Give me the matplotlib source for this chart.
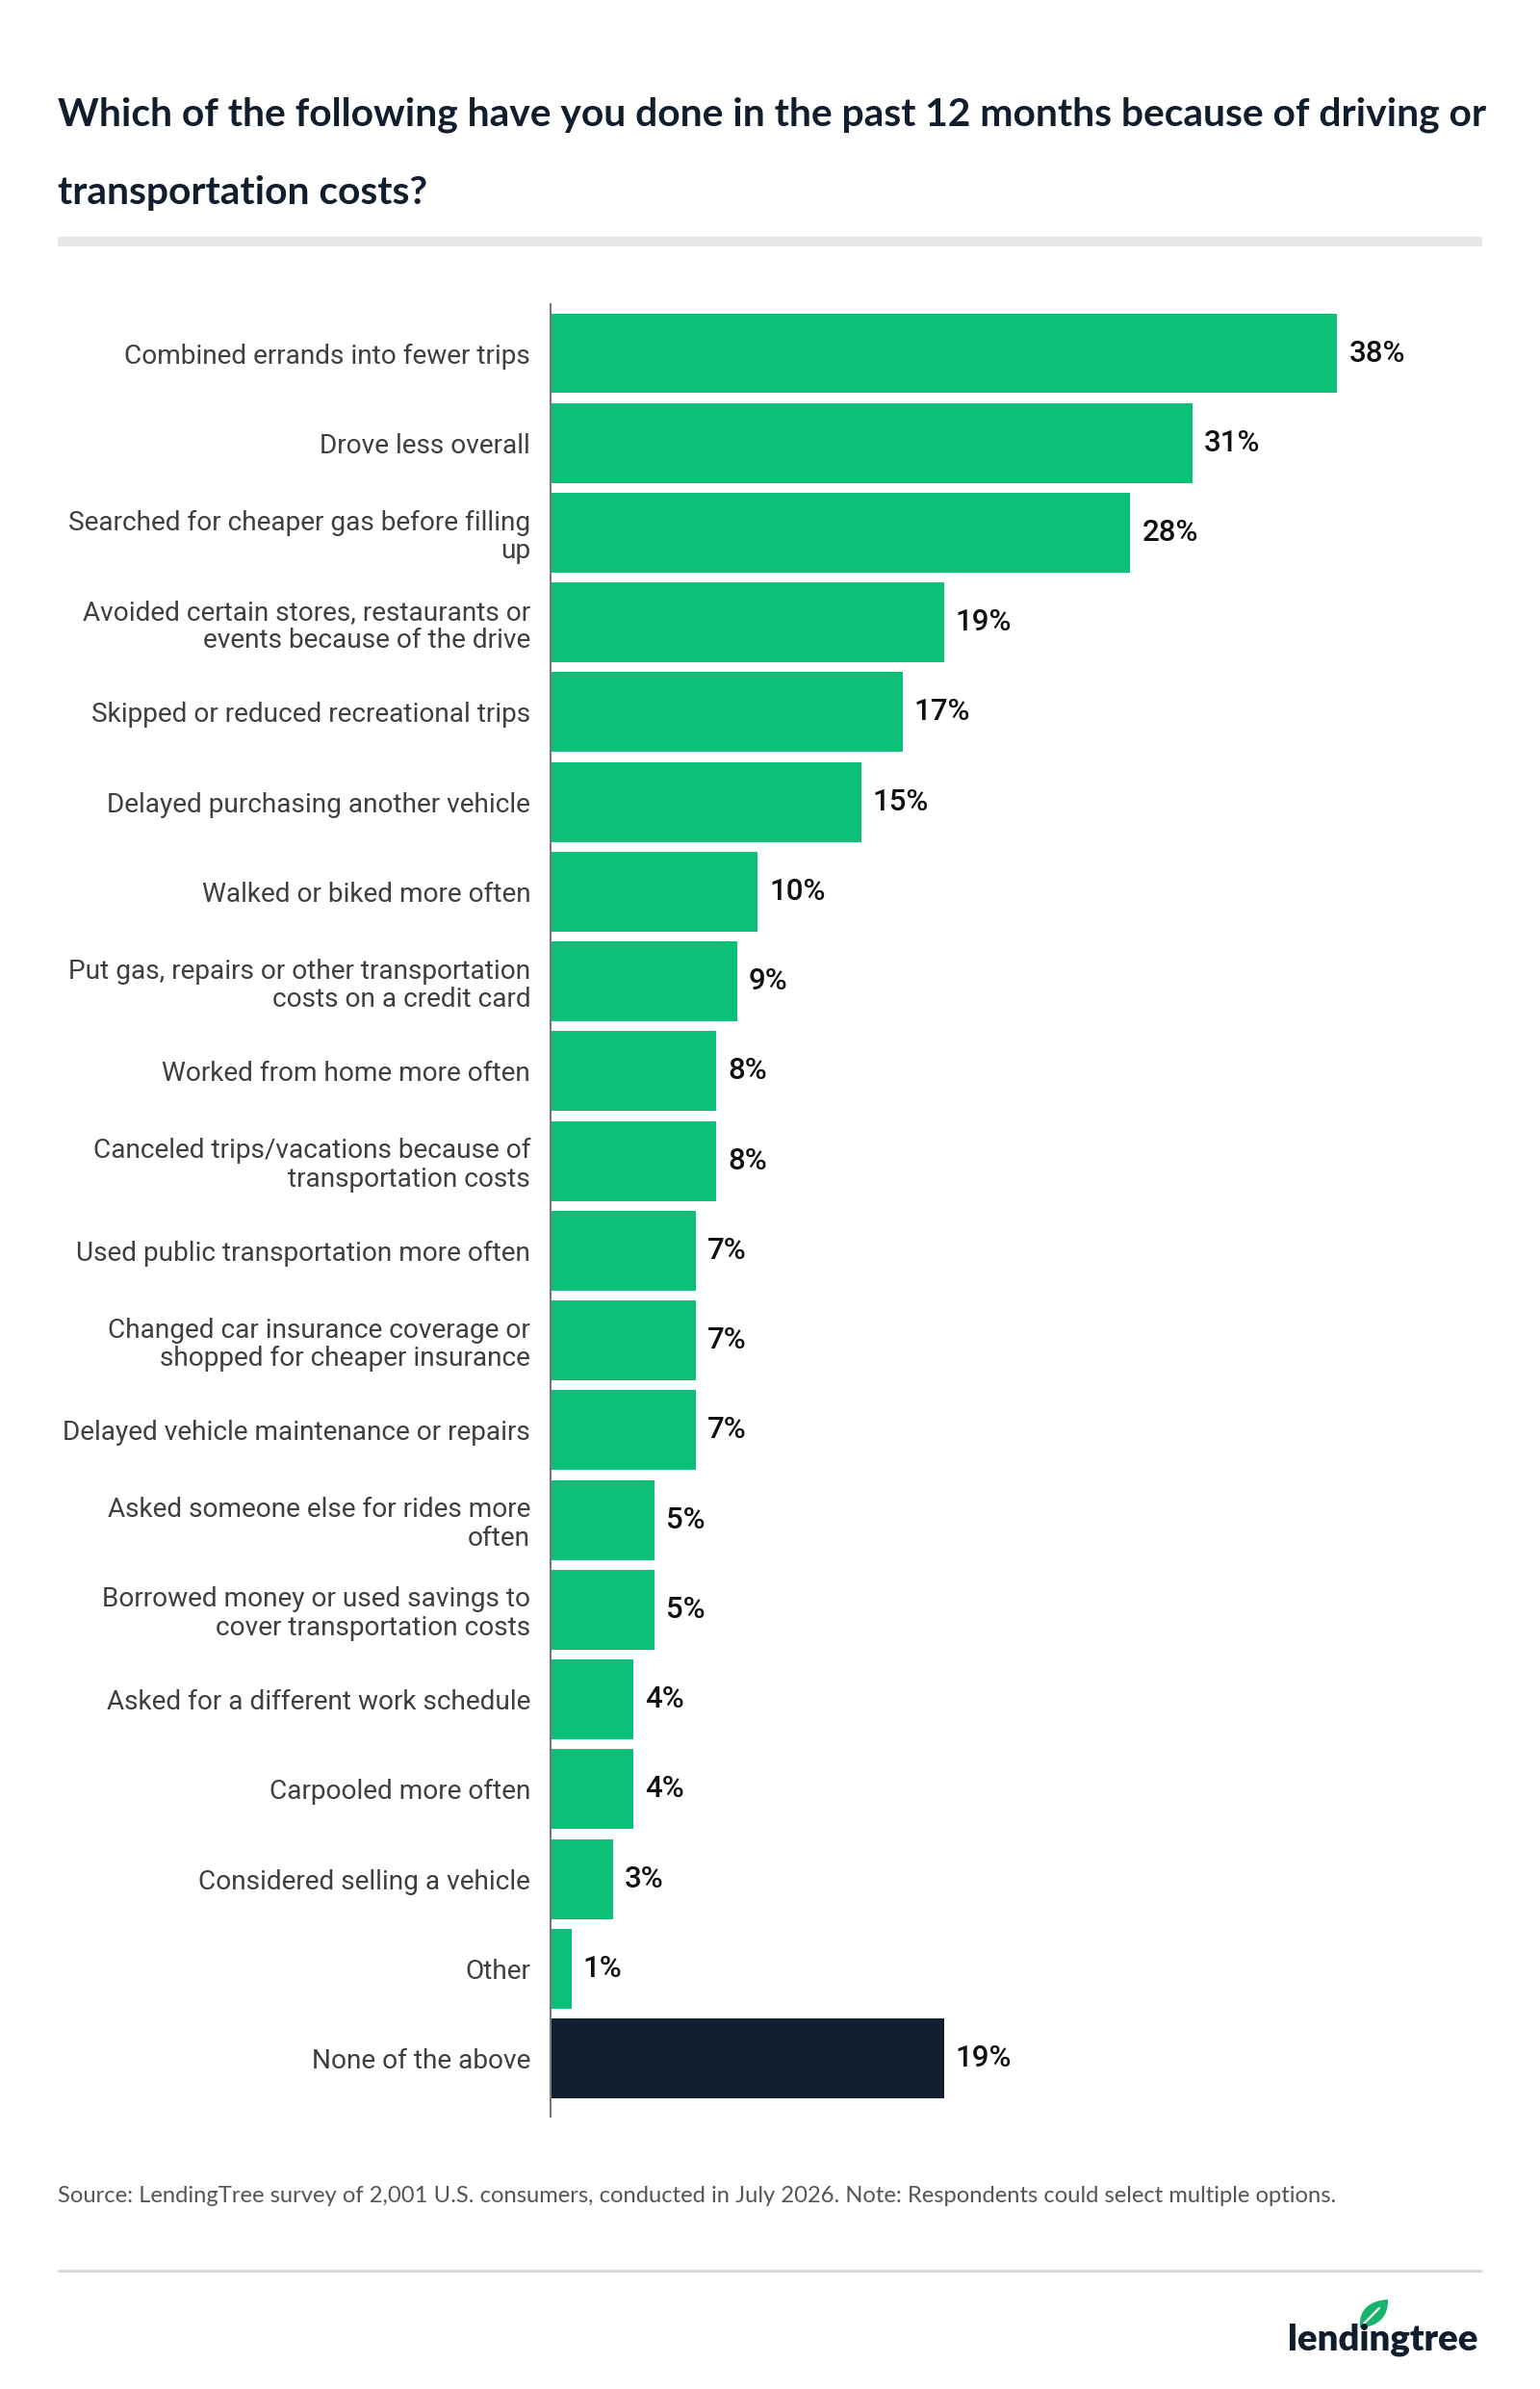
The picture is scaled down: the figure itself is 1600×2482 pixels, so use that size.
"""
LendingTree survey: actions taken because of driving / transportation costs.
Horizontal bar chart, 1600x2482 px.
"""

import matplotlib

matplotlib.use("Agg")
import matplotlib.pyplot as plt
from matplotlib.patches import Rectangle, PathPatch
from matplotlib.path import Path

# ---------- data ----------

categories = [
    "Combined errands into fewer trips",
    "Drove less overall",
    "Searched for cheaper gas before filling\nup",
    "Avoided certain stores, restaurants or\nevents because of the drive",
    "Skipped or reduced recreational trips",
    "Delayed purchasing another vehicle",
    "Walked or biked more often",
    "Put gas, repairs or other transportation\ncosts on a credit card",
    "Worked from home more often",
    "Canceled trips/vacations because of\ntransportation costs",
    "Used public transportation more often",
    "Changed car insurance coverage or\nshopped for cheaper insurance",
    "Delayed vehicle maintenance or repairs",
    "Asked someone else for rides more\noften",
    "Borrowed money or used savings to\ncover transportation costs",
    "Asked for a different work schedule",
    "Carpooled more often",
    "Considered selling a vehicle",
    "Other",
    "None of the above",
]
values = [38, 31, 28, 19, 17, 15, 10, 9, 8, 8, 7, 7, 7, 5, 5, 4, 4, 3, 1, 19]

title_lines = [
    "Which of the following have you done in the past 12 months because of driving or",
    "transportation costs?",
]
source_text = ("Source: LendingTree survey of 2,001 U.S. consumers, conducted in July 2026. "
               "Note: Respondents could select multiple options.")

GREEN = "#0CC177"
NAVY = "#121F30"
TITLE_COLOR = "#111E2E"
LABEL_COLOR = "#3F3F3F"

W, H = 1600, 2482
fig = plt.figure(figsize=(W / 100, H / 100), dpi=100)
fig.patch.set_facecolor("white")

# ---------- background layer in pixel coords ----------

bg = fig.add_axes([0, 0, 1, 1])
bg.set_xlim(0, W)
bg.set_ylim(H, 0)
bg.axis("off")

for text, base in zip(title_lines, [130, 212]):
    bg.text(60, base, text, fontsize=29.3, fontfamily="Lato", fontweight="bold",
            color=TITLE_COLOR, ha="left", va="baseline")

bg.add_patch(Rectangle((60, 246), 1480, 10, color="#E6E6E6", lw=0))

bg.text(60, 2288, source_text, fontsize=17.1, fontfamily="Lato",
        color="#555555", ha="left", va="baseline")

bg.plot([60, 1540], [2359, 2359], color="#DADADA", lw=2.2, solid_capstyle="butt")

# logo
bg.text(1535, 2442, "lendingtree", fontsize=27.5, fontfamily="Lato", fontweight="heavy",
        color=TITLE_COLOR, ha="right", va="baseline")
leaf = Path(
    [(1413, 2418), (1411, 2398), (1425, 2390), (1442, 2389),
     (1443, 2406), (1432, 2418), (1413, 2418), (1413, 2418)],
    [Path.MOVETO, Path.CURVE4, Path.CURVE4, Path.CURVE4,
     Path.CURVE4, Path.CURVE4, Path.CURVE4, Path.CLOSEPOLY],
)
bg.add_patch(PathPatch(leaf, facecolor="#19B46C", edgecolor="none"))
bg.plot([1417, 1433], [2414, 2398], color="white", lw=1.6, solid_capstyle="round")

# ---------- bar chart ----------

ax_left, ax_right = 572, 1540
ax_top, ax_bottom = 316, 2199
ax = fig.add_axes([ax_left / W, 1 - ax_bottom / H,
                   (ax_right - ax_left) / W, (ax_bottom - ax_top) / H])
ax.patch.set_alpha(0)

ypos = list(range(len(categories)))
colors = [GREEN] * (len(categories) - 1) + [NAVY]
ax.barh(ypos, values, height=0.89, color=colors, zorder=2)

ax.set_xlim(0, 45)
ax.set_ylim(19.649, -0.547)

for y, v in zip(ypos, values):
    ax.annotate(f"{v}%", (v, y), xytext=(8.6, 0), textcoords="offset points",
                ha="left", va="center", fontsize=22.5, fontfamily="Roboto",
                fontweight="medium", color="#111111")

ax.set_yticks(ypos)
ax.set_yticklabels(categories, fontsize=20.2, fontfamily="Roboto",
                   color=LABEL_COLOR, linespacing=1.12)
ax.tick_params(axis="y", length=0, pad=15)
ax.set_xticks([])

for side in ["top", "right", "bottom"]:
    ax.spines[side].set_visible(False)
ax.spines["left"].set_color("#777777")
ax.spines["left"].set_linewidth(1.5)
ax.spines["left"].set_zorder(3)

fig.savefig("out.png", dpi=100, facecolor="white")
